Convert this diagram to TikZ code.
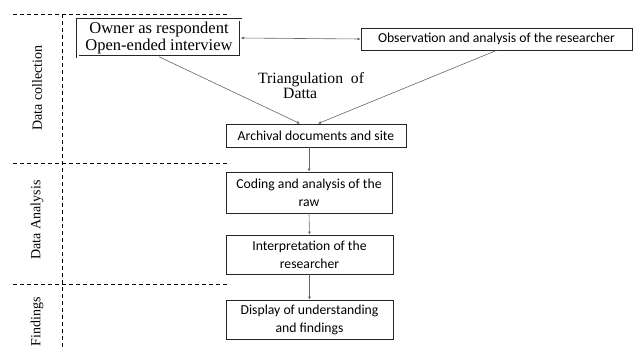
\documentclass[tikz,border=0pt]{standalone}
\usepackage{fontspec}
\setmainfont{Liberation Serif}
\newfontfamily\calibri{Carlito}
\usetikzlibrary{arrows.meta}

\tikzset{
	caixa/.style={draw=black!85, line width=0.8pt, align=center, inner sep=0pt,
		font=\calibri\fontsize{13.7}{18}\selectfont},
	seta/.style={draw=black!60, line width=0.6pt},
	divisao/.style={line width=1pt, dash pattern=on 4pt off 3pt},
	fase/.style={rotate=90, font=\fontsize{14}{16}\selectfont},
	>={Latex[length=3pt,width=3pt]}
}

\begin{document}
\begin{tikzpicture}[x=1pt,y=-1pt]
	\useasboundingbox (0,0) rectangle (638,349);
	% Linhas tracejadas das fases
	\foreach \y in {14,163,284}{
		\draw[divisao] (13,\y) -- (227,\y);
	}
	\draw[divisao] (62,14) -- (62,349);
	
	% Rótulos das fases
	\node[fase] (coleta) at (37,88) {Data collection};
	\node[fase] (analise) at (37,220) {Data Analysis};
	\node[fase] (achados) at (37,322) {Findings};
	
	% Caixas
	\node[caixa, font=\fontsize{16.5}{17}\selectfont, line width=0.5pt, double, double distance=2pt,
		minimum width=163pt, minimum height=37pt] (dono) at (159,38) {Owner as respondent\\Open-ended interview};
	\node[caixa, minimum width=271pt, minimum height=22pt] (observ) at (496.5,39) {Observation and analysis of the researcher};
	\node[caixa, minimum width=180pt, minimum height=23pt] (arquivo) at (316,135.5) {Archival documents and site};
	\node[caixa, minimum width=166pt, minimum height=41pt] (codif) at (309,192.5) {Coding and analysis of the\\raw};
	\node[caixa, minimum width=167pt, minimum height=39pt] (interp) at (309.5,254.5) {Interpretation of the\\researcher};
	\node[caixa, minimum width=167pt, minimum height=39pt] (exibe) at (309.5,319.5) {Display of understanding\\and findings};
	
	% Triangulação
	\node[anchor=west, align=left, inner sep=0pt, font=\fontsize{15.7}{15}\selectfont] (triang) at (258,86) {Triangulation~~of\\\hspace*{25pt}Datta};
	
	% Setas
	\draw[seta, <->] (dono.east) -- (observ.west);
	\draw[seta, ->] (dono.south) -- ([xshift=-16pt]arquivo.north);
	\draw[seta, ->] (observ.south) -- ([xshift=2pt]arquivo.north);
	\draw[seta, ->] (codif.north |- arquivo.south) -- (codif.north);
	\draw[seta, ->] (codif.south) -- (interp.north);
	\draw[seta, ->] (interp.south) -- (exibe.north);
\end{tikzpicture}
\end{document}
